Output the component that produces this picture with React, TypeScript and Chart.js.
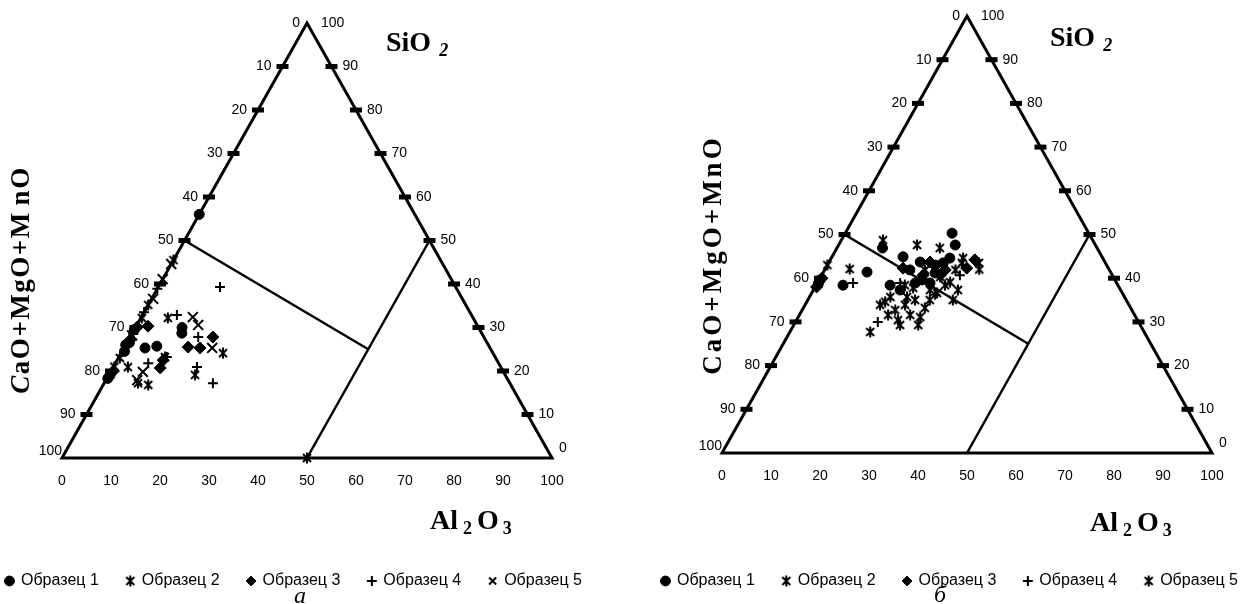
import React, { useEffect, useRef } from "react";
import { Chart, registerables } from "chart.js";

Chart.register(...registerables);

// ---------- data ----------
const SAMPLE_NAMES = ["Образец 1", "Образец 2", "Образец 3", "Образец 4", "Образец 5"];
const SCALE_TICKS = [0, 10, 20, 30, 40, 50, 60, 70, 80, 90, 100];

// Each point: [Al2O3 %, SiO2 %]; CaO+MgO+MnO = 100 - Al2O3 - SiO2
// Diagram "а"
const A_SAMPLE1: [number, number][] = [
  [0, 56], [0.5, 26.5], [0.5, 24.5], [0.3, 19], [0.2, 18.3], [4.3, 25.3],
  [6.5, 25.7], [10.1, 28.7], [9.5, 30], [0, 29.5], [0, 26],
];
const A_SAMPLE2: [number, number][] = [
  [50, 0], [17.6, 19.1], [6.9, 17.2], [9.2, 16.8], [3, 20.9], [9.4, 23.2],
  [20.8, 24.1], [5.5, 32.2], [0, 45.5], [0, 35.2], [0.2, 32.2], [0.3, 23], [0.2, 21],
];
const A_SAMPLE3: [number, number][] = [
  [2.4, 30.3], [0.3, 30.1], [9.7, 20.7], [9.4, 22.5], [13, 25.5], [15.5, 25.3],
  [16.9, 27.8], [0.3, 27], [0.5, 20],
];
const A_SAMPLE4: [number, number][] = [
  [12.6, 39.3], [7, 32.9], [13.9, 27.8], [17.1, 20.9], [22.2, 17.2], [6.7, 21.8],
  [9.8, 23.2], [0, 38.9], [0, 33.5], [0.3, 28.5],
];
const A_SAMPLE5: [number, number][] = [
  [10.5, 32.4], [12.5, 30.6], [18, 25.3], [6.4, 17.9], [6.6, 19.8], [0, 44.6],
  [0, 41.1], [0.3, 36.6], [0.2, 28.2],
];

// Diagram "б"
const B_SAMPLE1: [number, number][] = [
  [21.8, 50.3], [23.8, 47.6], [14.5, 44.9], [18.6, 43.7], [8.9, 41.4], [5.5, 38.4],
  [0.2, 39.6], [0.3, 38.7], [9.3, 46.9], [21, 39.6], [23, 38.9], [23.4, 43.5],
  [22.9, 41.2], [17.4, 41.9], [22, 43], [20, 38.9], [17.7, 37.3], [15.1, 38.4], [24.2, 44.6],
];
const B_SAMPLE2: [number, number][] = [
  [15.3, 33.9], [16.5, 35.7], [19, 32.7], [20.7, 30.4], [22.6, 31.6], [24.9, 31.1],
  [24.8, 33.2], [16, 34.6], [19.9, 35.7], [20.1, 37.8], [24.4, 40.3], [27, 39.1],
  [29.6, 35], [25.6, 36.6], [8.5, 48.7], [16.4, 27.7], [27.2, 43.5], [30.7, 43.5], [0, 43],
  [18.1, 31.6], [20.4, 33.9], [21.9, 35], [23.8, 37.3], [26.3, 38.4], [21.7, 29.3],
  [25.4, 29.3], [18.1, 38.4], [20.5, 41.9], [26.7, 41.9],
];
const B_SAMPLE3: [number, number][] = [
  [28.8, 42.3], [29.5, 44.2], [20.7, 40.7], [15.8, 42.3], [0.4, 40], [24.6, 41.9], [0.3, 38],
  [24.2, 40.7], [20.6, 43.7],
];
const B_SAMPLE4: [number, number][] = [
  [7.3, 38.9], [16.8, 30], [16.9, 38.9], [25.4, 36.2], [28.2, 40.7],
];
const B_SAMPLE5: [number, number][] = [
  [5, 42.1], [16, 47.6], [21, 46.9], [26.9, 44.6], [29.5, 37.3], [24.9, 35], [31.5, 42],
];

// ---------- layout ----------
const CANVAS_H = 604;
const LEGEND_FONT = 16;
const LEGEND_PAD = 28;
const PAD_BOTTOM = 5;
const AREA_BOTTOM = CANVAS_H - PAD_BOTTOM - (LEGEND_FONT + LEGEND_PAD + 10);

const SERIF = "'Liberation Serif', 'Times New Roman', serif";
const SANS = "'Liberation Sans', Arial, sans-serif";

type Run = { t: string; font: string; dy?: number; gap?: number };

interface Geo {
  triLeft: number;
  triRight: number;
  apexY: number;
  baseY: number;
  canvasLeft: number;
  canvasW: number;
  siO2: [number, number];
  al2O3: [number, number];
  yTitle: [number, number];
  yTitleRuns: Run[];
  yTitleSpacing: number;
  caption: [number, number];
  captionText: string;
}

const GEO_A: Geo = {
  triLeft: 62, triRight: 552, apexY: 23, baseY: 458,
  canvasLeft: -22, canvasW: 660,
  siO2: [386, 51], al2O3: [430, 529], yTitle: [29, 280],
  yTitleRuns: [
    { t: "C", font: `italic bold 27px ${SERIF}` },
    { t: "aO+MgO+M", font: `bold 27px ${SERIF}` },
    { t: "nO", font: `bold 27px ${SERIF}`, gap: 6 },
  ],
  yTitleSpacing: 1.5,
  caption: [300, 603], captionText: "а",
};

const GEO_B: Geo = {
  triLeft: 722, triRight: 1212, apexY: 16, baseY: 453,
  canvasLeft: 634, canvasW: 650,
  siO2: [1050, 46], al2O3: [1090, 531], yTitle: [721, 255],
  yTitleRuns: [{ t: "CaO+MgO+MnO", font: `bold 27px ${SERIF}` }],
  yTitleSpacing: 3,
  caption: [940, 602], captionText: "б",
};

function makeStar(): HTMLCanvasElement {
  const c = document.createElement("canvas");
  c.width = 12;
  c.height = 12;
  const g = c.getContext("2d")!;
  g.strokeStyle = "#000";
  g.lineWidth = 2;
  g.beginPath();
  g.moveTo(2, 2); g.lineTo(10, 10);
  g.moveTo(10, 2); g.lineTo(2, 10);
  g.moveTo(6, 0.5); g.lineTo(6, 11.5);
  g.stroke();
  return c;
}

function drawRuns(ctx: CanvasRenderingContext2D, runs: Run[], x: number, y: number, center: boolean, rot: number, spacing: number) {
  ctx.save();
  ctx.translate(x, y);
  if (rot) ctx.rotate(rot);
  ctx.textBaseline = "alphabetic";
  ctx.textAlign = "left";
  (ctx as any).letterSpacing = `${spacing}px`;
  let total = 0;
  const widths = runs.map((r) => {
    ctx.font = r.font;
    const w = ctx.measureText(r.t).width;
    total += w + (r.gap || 0);
    return w;
  });
  let cx = center ? -total / 2 : 0;
  runs.forEach((r, i) => {
    cx += r.gap || 0;
    ctx.font = r.font;
    ctx.fillText(r.t, cx, r.dy || 0);
    cx += widths[i];
  });
  ctx.restore();
}

function makeDecor(g: Geo) {
  return {
    id: "ternaryDecor",
    beforeDatasetsDraw(chart: any) {
      const ctx: CanvasRenderingContext2D = chart.ctx;
      const sx = chart.scales.x;
      const sy = chart.scales.y;
      const P = (al: number, si: number): [number, number] => [
        sx.getPixelForValue(al + si / 2),
        sy.getPixelForValue(si),
      ];
      const ox = -g.canvasLeft;
      ctx.save();
      ctx.fillStyle = "#000";
      ctx.strokeStyle = "#000";
      // triangle
      const L = P(0, 0), R = P(100, 0), T = P(0, 100);
      ctx.lineWidth = 3;
      ctx.lineJoin = "miter";
      ctx.beginPath();
      ctx.moveTo(L[0], L[1]); ctx.lineTo(T[0], T[1]); ctx.lineTo(R[0], R[1]); ctx.closePath();
      ctx.stroke();
      // interior field boundaries
      ctx.lineWidth = 2.5;
      const a1 = P(0, 50), a2 = P(50, 25), b1 = P(50, 0), b2 = P(50, 50);
      ctx.beginPath();
      ctx.moveTo(a1[0], a1[1]); ctx.lineTo(a2[0], a2[1]);
      ctx.moveTo(b1[0], b1[1]); ctx.lineTo(b2[0], b2[1]);
      ctx.stroke();
      // tick marks
      SCALE_TICKS.forEach((v) => {
        if (v === 0 || v === 100) return;
        const l = P(0, 100 - v);
        ctx.fillRect(l[0] - 6, l[1] - 2.5, 12, 5);
        const r = P(100 - v, v);
        ctx.fillRect(r[0] - 6, r[1] - 2.5, 12, 5);
      });
      // tick labels
      ctx.font = `14px ${SANS}`;
      ctx.textBaseline = "middle";
      SCALE_TICKS.forEach((v) => {
        const lab = String(v);
        const l = P(0, 100 - v);
        ctx.textAlign = "right";
        if (v === 0) ctx.fillText(lab, l[0] - 7, l[1]);
        else if (v === 100) ctx.fillText(lab, l[0], l[1] - 7);
        else ctx.fillText(lab, l[0] - 11, l[1]);
        const r = P(100 - v, v);
        ctx.textAlign = "left";
        if (v === 100) ctx.fillText(lab, r[0] + 14, r[1]);
        else if (v === 0) ctx.fillText(lab, r[0] + 7, r[1] - 10);
        else ctx.fillText(lab, r[0] + 11, r[1]);
        const b = P(v, 0);
        ctx.textAlign = "center";
        ctx.fillText(lab, b[0], b[1] + 23);
      });
      // axis titles
      drawRuns(ctx, [
        { t: "SiO", font: `bold 28px ${SERIF}` },
        { t: "2", font: `italic bold 18px ${SERIF}`, dy: 5, gap: 8 },
      ], g.siO2[0] + ox, g.siO2[1], false, 0, 0);
      drawRuns(ctx, [
        { t: "Al", font: `bold 28px ${SERIF}` },
        { t: "2", font: `bold 18px ${SERIF}`, dy: 5, gap: 5 },
        { t: "O", font: `bold 28px ${SERIF}`, gap: 5 },
        { t: "3", font: `bold 18px ${SERIF}`, dy: 5, gap: 4 },
      ], g.al2O3[0] + ox, g.al2O3[1], false, 0, 0);
      drawRuns(ctx, g.yTitleRuns, g.yTitle[0] + ox, g.yTitle[1], true, -Math.PI / 2, g.yTitleSpacing);
      // caption
      ctx.font = `italic 24px ${SERIF}`;
      ctx.textAlign = "center";
      ctx.textBaseline = "alphabetic";
      ctx.fillText(g.captionText, g.caption[0] + ox, g.caption[1]);
      ctx.restore();
    },
  };
}

function TernaryChart({ geo, series, styles }: { geo: Geo; series: [number, number][][]; styles: string[] }) {
  const ref = useRef<HTMLCanvasElement>(null);
  useEffect(() => {
    const star = makeStar();
    const unitX = (geo.triRight - geo.triLeft) / 100;
    const xMin = -(geo.triLeft - geo.canvasLeft) / unitX;
    const xMax = xMin + geo.canvasW / unitX;
    const unitY = (geo.baseY - geo.apexY) / 100;
    const yMin = -(AREA_BOTTOM - geo.baseY) / unitY;
    const yMax = yMin + AREA_BOTTOM / unitY;

    const datasets = series.map((pts, i) => {
      const st = styles[i];
      const radius = st === "circle" ? 5 : st === "rectRot" ? 6 : st === "crossRot" ? 7 : 5;
      const bw = st === "cross" || st === "crossRot" ? 2 : 1;
      return {
        label: SAMPLE_NAMES[i],
        data: pts.map(([al, si]) => ({ x: al + si / 2, y: si })),
        pointStyle: st === "star" ? star : st,
        pointRadius: radius,
        pointHoverRadius: radius,
        pointBorderWidth: bw,
        borderWidth: bw,
        backgroundColor: "#000",
        borderColor: "#000",
        showLine: false,
      };
    });

    const chart = new Chart(ref.current!, {
      type: "scatter",
      data: { datasets: datasets as any },
      options: {
        animation: false,
        responsive: false,
        events: [],
        layout: { autoPadding: false, padding: { top: 0, left: 0, right: 0, bottom: PAD_BOTTOM } },
        scales: {
          x: { type: "linear", min: xMin, max: xMax, bounds: "data", display: false },
          y: { type: "linear", min: yMin, max: yMax, bounds: "data", display: false },
        },
        plugins: {
          tooltip: { enabled: false },
          title: { display: false },
          legend: {
            display: true,
            position: "bottom",
            align: "start",
            labels: {
              usePointStyle: true,
              boxWidth: 7,
              boxHeight: 7,
              padding: LEGEND_PAD,
              color: "#000",
              font: { size: LEGEND_FONT, family: SANS },
            },
          },
        },
      },
      plugins: [makeDecor(geo)],
    } as any);
    return () => chart.destroy();
  }, []);
  return (
    <canvas
      ref={ref}
      width={geo.canvasW}
      height={CANVAS_H}
      style={{ position: "absolute", left: geo.canvasLeft, top: 0, width: geo.canvasW, height: CANVAS_H, display: "block" }}
    />
  );
}

export default function App() {
  return (
    <div style={{ position: "absolute", left: 0, top: 0, width: 1246, height: 604, overflow: "hidden", background: "#fff" }}>
      <TernaryChart
        geo={GEO_A}
        series={[A_SAMPLE1, A_SAMPLE2, A_SAMPLE3, A_SAMPLE4, A_SAMPLE5]}
        styles={["circle", "star", "rectRot", "cross", "crossRot"]}
      />
      <TernaryChart
        geo={GEO_B}
        series={[B_SAMPLE1, B_SAMPLE2, B_SAMPLE3, B_SAMPLE4, B_SAMPLE5]}
        styles={["circle", "star", "rectRot", "cross", "star"]}
      />
    </div>
  );
}
